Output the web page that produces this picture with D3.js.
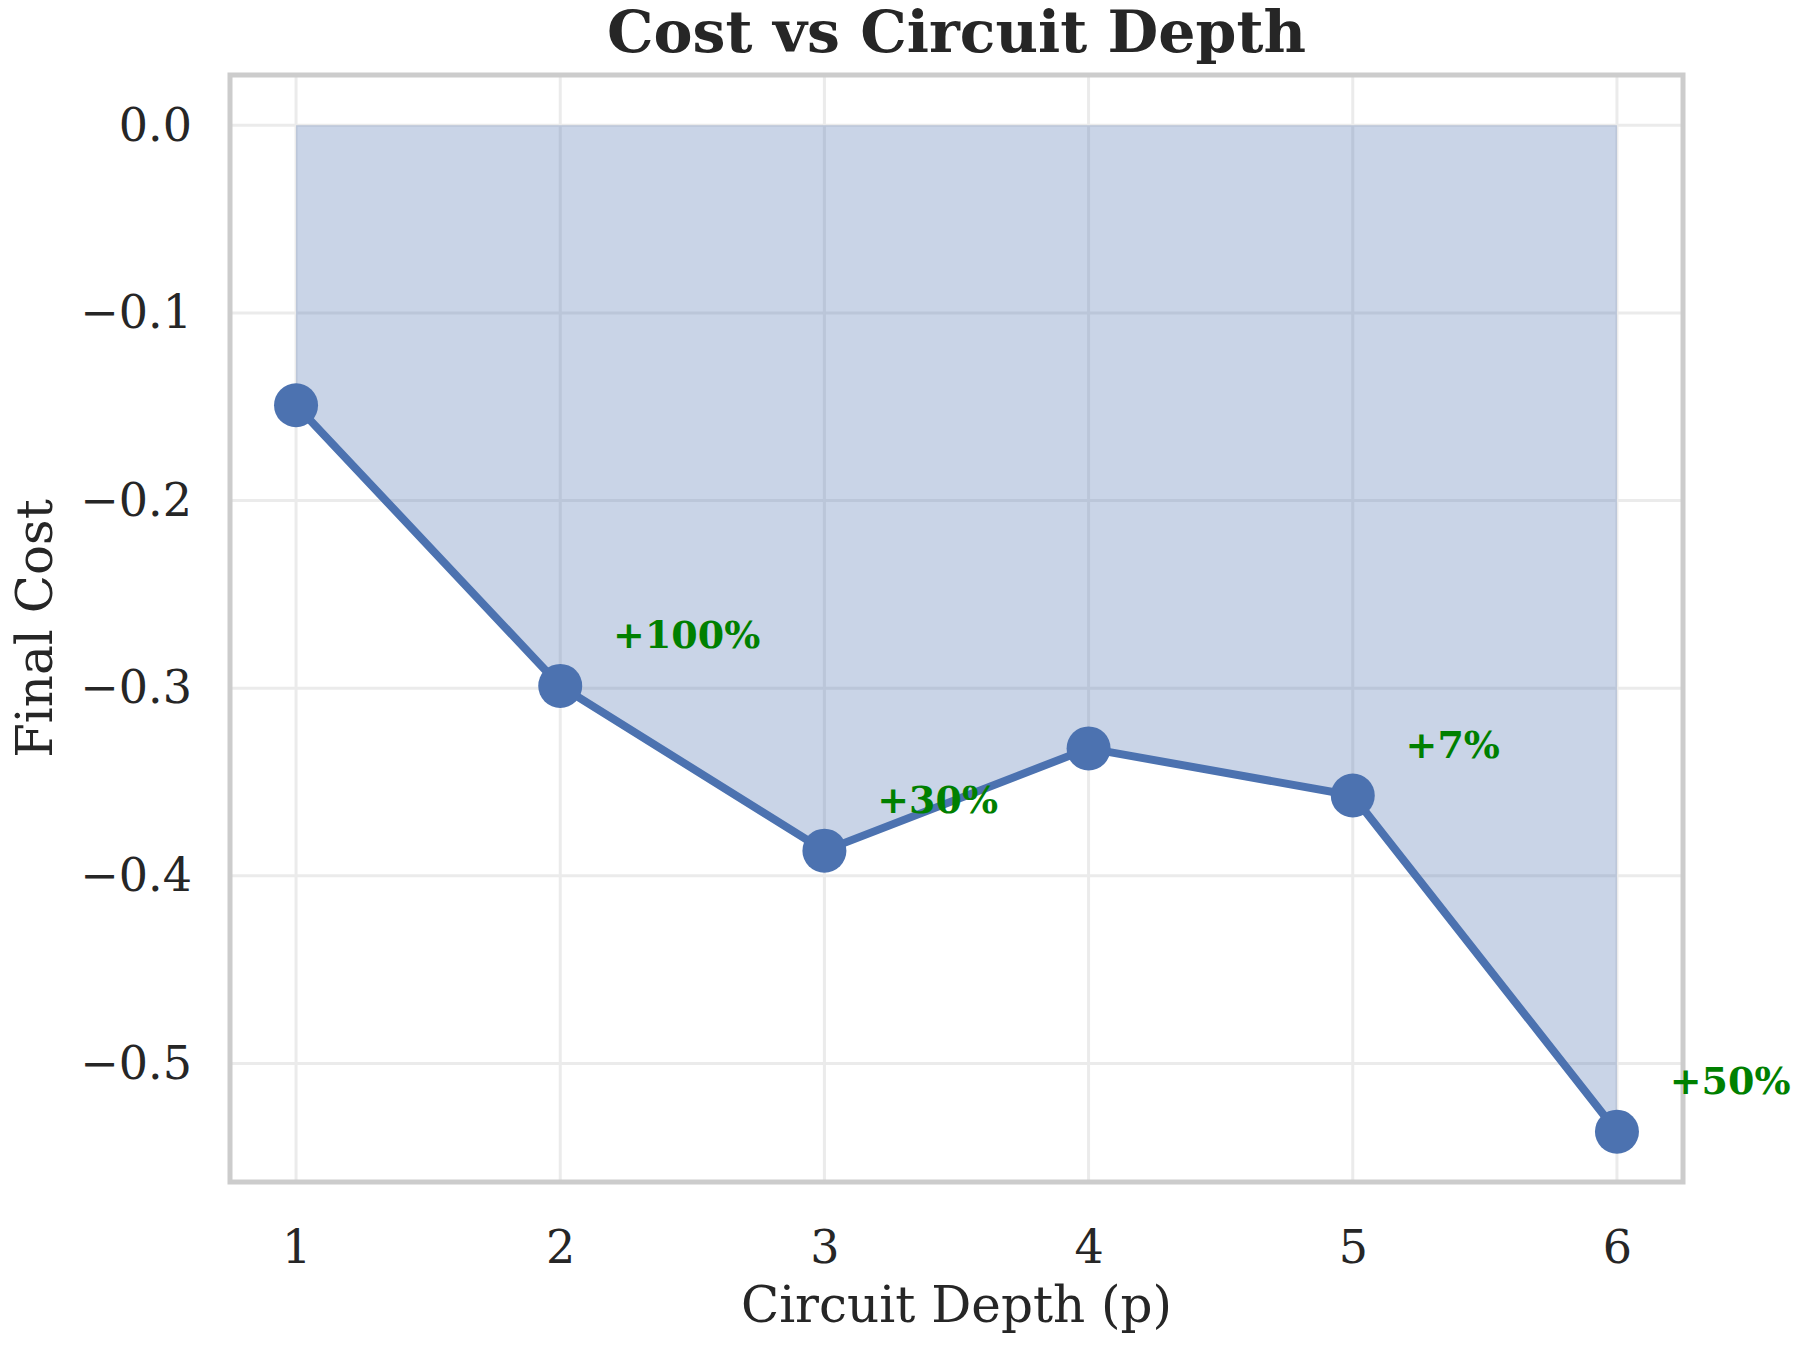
<!DOCTYPE html>
<html><head><meta charset="utf-8">
<script src="https://cdn.jsdelivr.net/npm/d3@7"></script>
<style>
body{margin:0;background:#fff;}
text{font-family:"DejaVu Serif",serif;}
</style></head>
<body>
<svg id="chart" width="1803" height="1356"></svg>
<script>
const depths = [1, 2, 3, 4, 5, 6];
const costs = [-0.1492, -0.2988, -0.3866, -0.3321, -0.3572, -0.5364];
const improvements = ["", "+100%", "+30%", "", "+7%", "+50%"];
const yTicks = [0.0, -0.1, -0.2, -0.3, -0.4, -0.5];
const xTicks = [1, 2, 3, 4, 5, 6];

const W = 1803, H = 1356;
const m = {left: 230, right: 1683, top: 75, bottom: 1182};
const svg = d3.select("#chart");

const x = d3.scaleLinear().domain([0.75, 6.25]).range([m.left, m.right]);
const yMin = d3.min(costs), span = 0 - yMin;
const y = d3.scaleLinear().domain([yMin - 0.05*span, 0 + 0.05*span]).range([m.bottom, m.top]);

// grid
const gridColor = "#ebebeb";
svg.append("g").selectAll("line").data(yTicks).join("line")
  .attr("x1", m.left).attr("x2", m.right)
  .attr("y1", d => y(d)).attr("y2", d => y(d))
  .attr("stroke", gridColor).attr("stroke-width", 3);
svg.append("g").selectAll("line").data(xTicks).join("line")
  .attr("y1", m.top).attr("y2", m.bottom)
  .attr("x1", d => x(d)).attr("x2", d => x(d))
  .attr("stroke", gridColor).attr("stroke-width", 3);

const data = depths.map((d, i) => ({x: d, y: costs[i], label: improvements[i]}));

// fill
const area = d3.area().x(d => x(d.x)).y0(y(0)).y1(d => y(d.y));
svg.append("path").datum(data).attr("d", area)
  .attr("fill", "#4c72b0").attr("fill-opacity", 0.3);

// line
const line = d3.line().x(d => x(d.x)).y(d => y(d.y));
svg.append("path").datum(data).attr("d", line)
  .attr("fill", "none").attr("stroke", "#4c72b0").attr("stroke-width", 8)
  .attr("stroke-linejoin", "round");

svg.append("g").selectAll("circle").data(data).join("circle")
  .attr("cx", d => x(d.x)).attr("cy", d => y(d.y)).attr("r", 22)
  .attr("fill", "#4c72b0");

// frame
svg.append("rect").attr("x", m.left).attr("y", m.top)
  .attr("width", m.right - m.left).attr("height", m.bottom - m.top)
  .attr("fill", "none").attr("stroke", "#cccccc").attr("stroke-width", 5);

// annotations
svg.append("g").selectAll("text").data(data.filter(d => d.label)).join("text")
  .attr("x", d => x(d.x + 0.2)).attr("y", d => y(d.y + 0.02))
  .attr("fill", "#008000").attr("font-weight", "bold").attr("font-size", 38)
  .text(d => d.label);

// axes
const fmt = d => (d < 0 ? "\u2212" : "") + Math.abs(d).toFixed(1);
const yAxis = d3.axisLeft(y).tickValues(yTicks).tickFormat(fmt).tickSize(0).tickPadding(38);
const gy = svg.append("g").attr("transform", `translate(${m.left},0)`).call(yAxis);
gy.select(".domain").remove();
gy.selectAll("text").attr("font-size", 46).attr("fill", "#262626")
  .attr("font-family", "DejaVu Serif");

const xAxis = d3.axisBottom(x).tickValues(xTicks).tickFormat(d3.format("d")).tickSize(0).tickPadding(48);
const gx = svg.append("g").attr("transform", `translate(0,${m.bottom})`).call(xAxis);
gx.select(".domain").remove();
gx.selectAll("text").attr("font-size", 46).attr("fill", "#262626")
  .attr("font-family", "DejaVu Serif");

// labels
svg.append("text").attr("x", (m.left + m.right)/2).attr("y", 1322)
  .attr("text-anchor", "middle").attr("font-size", 50).attr("fill", "#262626")
  .text("Circuit Depth (p)");
svg.append("text").attr("transform", `translate(52,${(m.top + m.bottom)/2}) rotate(-90)`)
  .attr("text-anchor", "middle").attr("font-size", 50).attr("fill", "#262626")
  .text("Final Cost");
svg.append("text").attr("x", (m.left + m.right)/2).attr("y", 52)
  .attr("text-anchor", "middle").attr("font-size", 58.5).attr("font-weight", "bold")
  .attr("fill", "#262626").text("Cost vs Circuit Depth");
</script>
</body></html>
